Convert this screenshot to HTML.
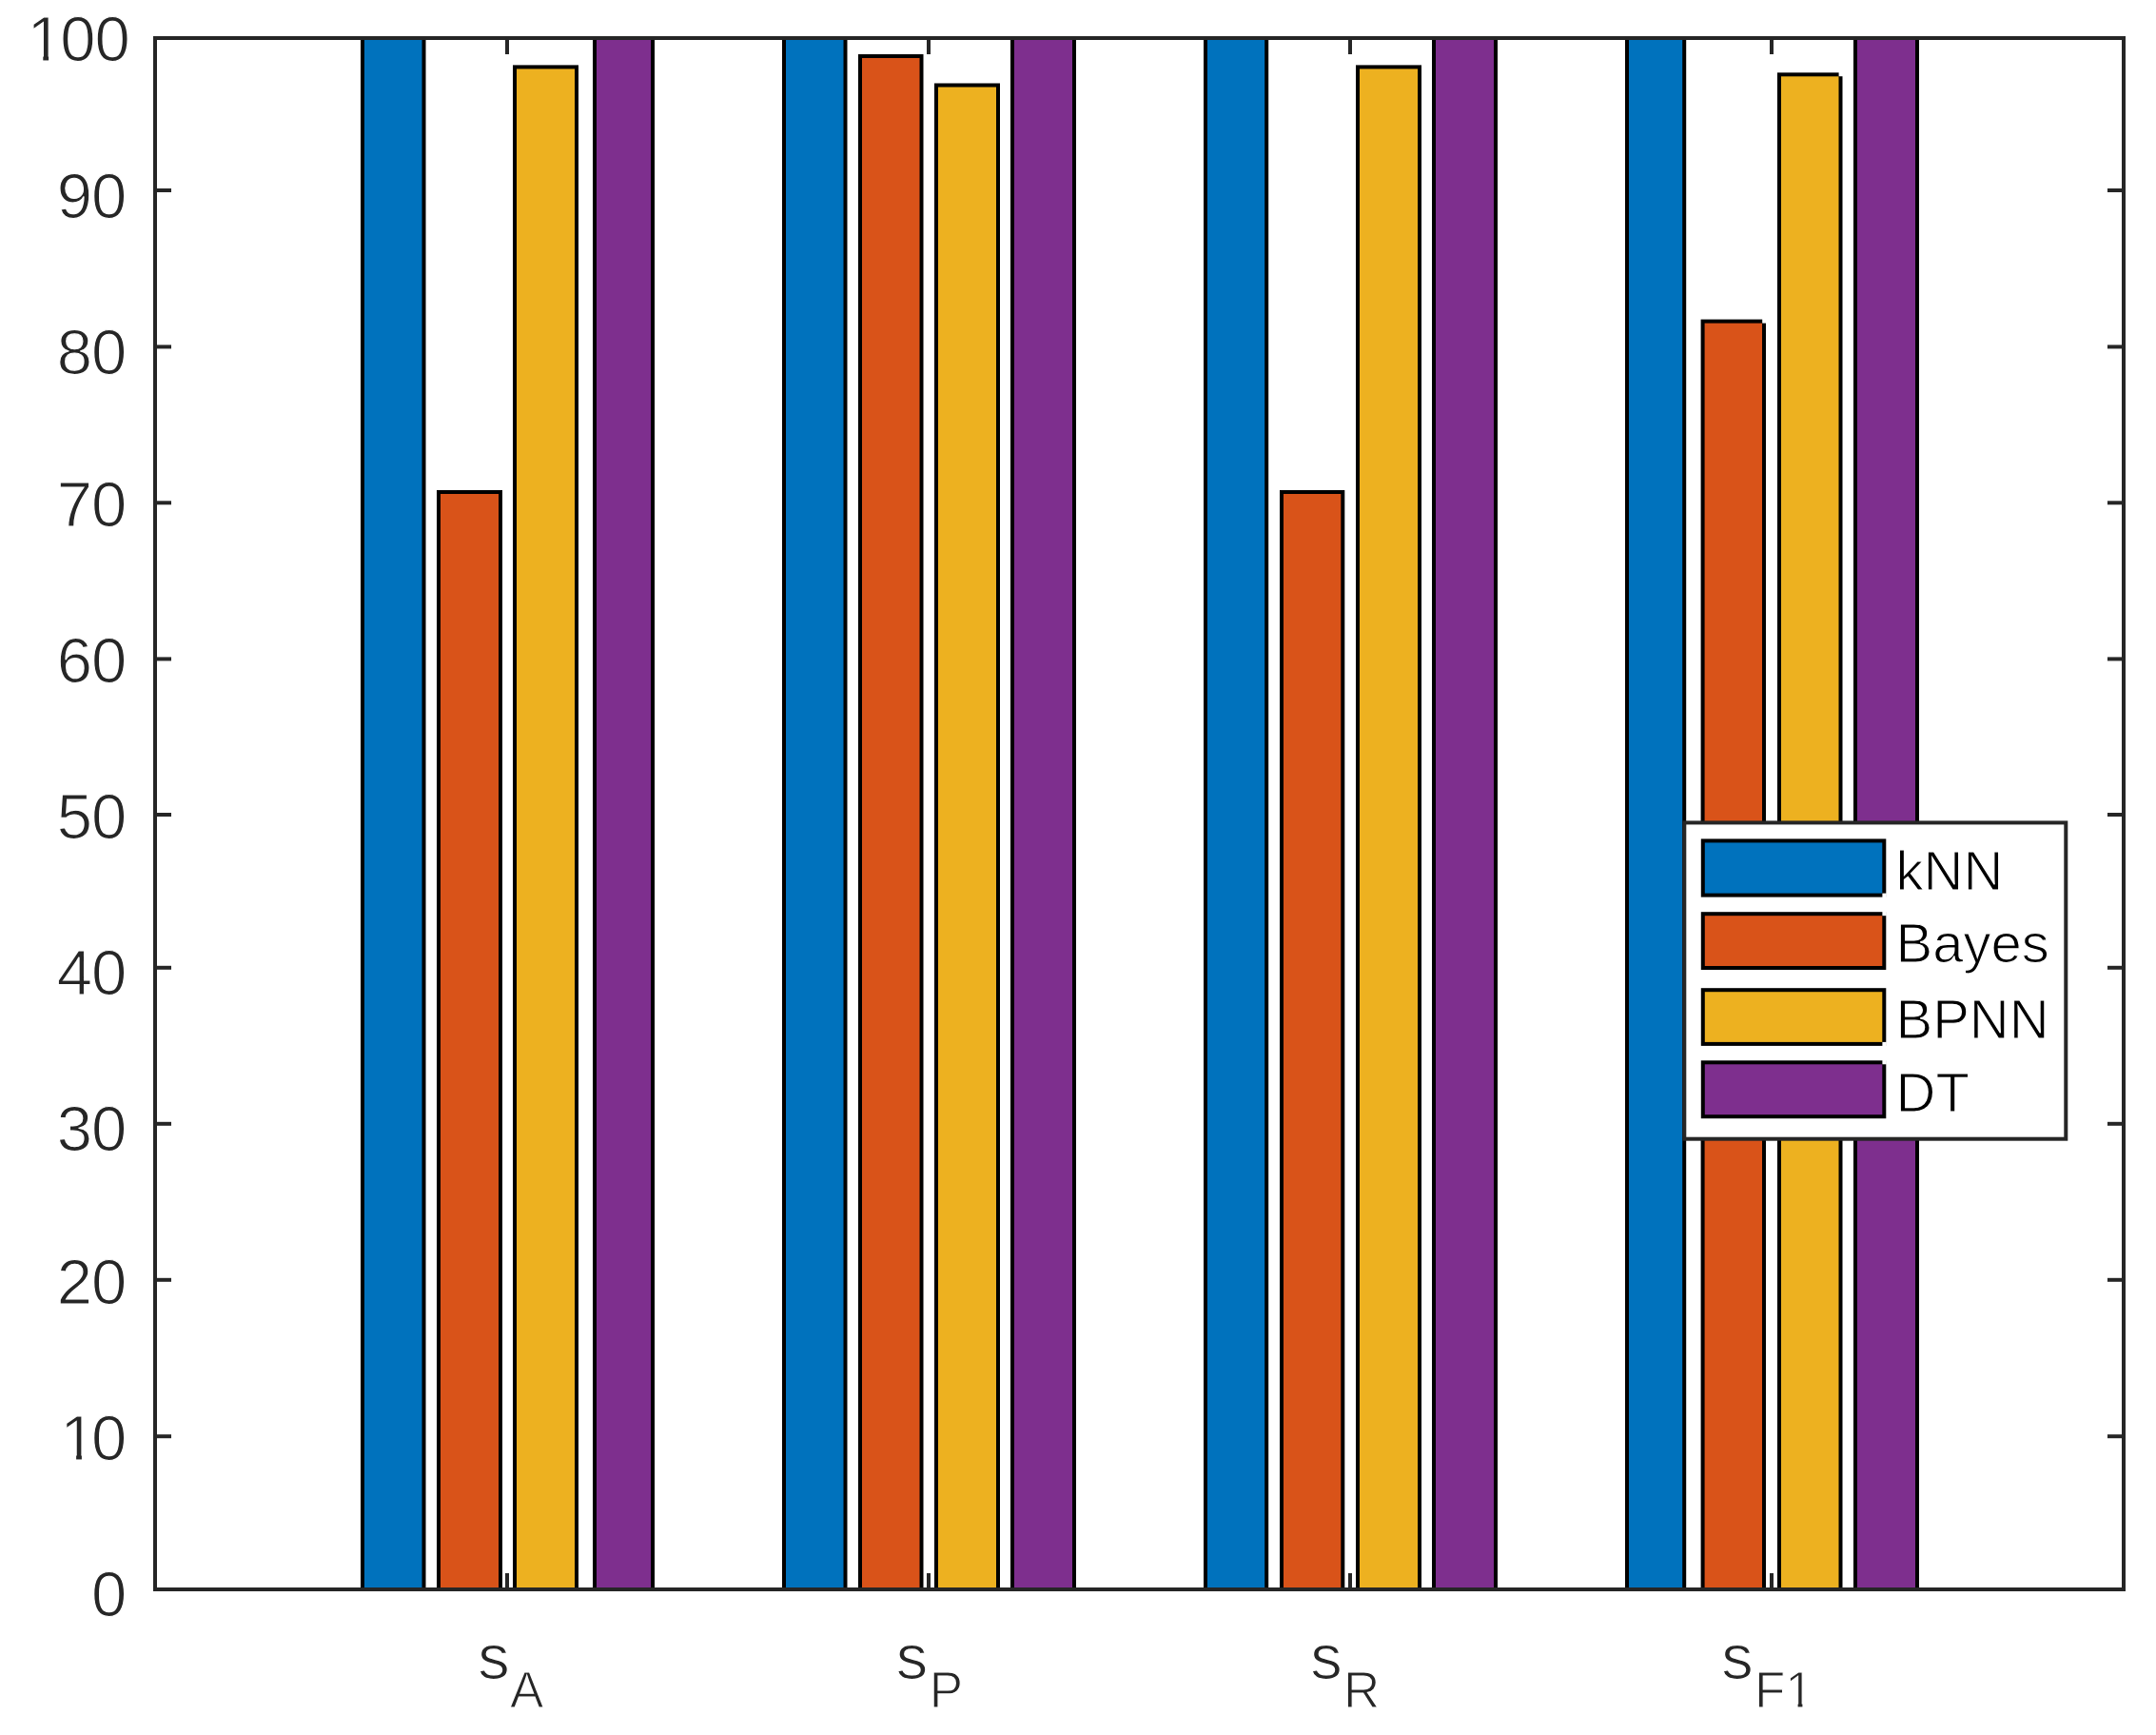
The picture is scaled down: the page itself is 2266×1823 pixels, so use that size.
<!DOCTYPE html>
<html lang="en"><head><meta charset="utf-8"><title>Classifier comparison</title>
<style>html,body{margin:0;padding:0;background:#fff}body{width:2266px;height:1823px;overflow:hidden}svg{display:block}text{font-family:"Liberation Sans",sans-serif}</style></head><body>
<svg width="2266" height="1823" viewBox="0 0 2266 1823">
<defs><filter id="soft" x="0" y="0" width="2266" height="1823" filterUnits="userSpaceOnUse" color-interpolation-filters="sRGB"><feGaussianBlur stdDeviation="0.5"/></filter></defs>
<rect x="0" y="0" width="2266" height="1823" fill="#fff"/>
<g filter="url(#soft)">
<g stroke="#000" stroke-width="4" stroke-linejoin="miter">
<rect x="381" y="40" width="64.5" height="1630" fill="#0072BD"/>
<rect x="461" y="517" width="65" height="1153" fill="#D95319"/>
<rect x="541" y="70.4" width="65" height="1599.6" fill="#EDB120"/>
<rect x="625" y="40" width="61" height="1630" fill="#7E2F8E"/>
<rect x="824" y="40" width="64.5" height="1630" fill="#0072BD"/>
<rect x="904" y="59" width="64.5" height="1611" fill="#D95319"/>
<rect x="984" y="89.5" width="65" height="1580.5" fill="#EDB120"/>
<rect x="1064" y="40" width="65" height="1630" fill="#7E2F8E"/>
<rect x="1267" y="40" width="64.2" height="1630" fill="#0072BD"/>
<rect x="1347" y="517" width="64.3" height="1153" fill="#D95319"/>
<rect x="1427" y="70.4" width="65" height="1599.6" fill="#EDB120"/>
<rect x="1507" y="40" width="65" height="1630" fill="#7E2F8E"/>
<rect x="1710" y="40" width="60.2" height="1630" fill="#0072BD"/>
<rect x="1789.6" y="337.6" width="64.4" height="1332.4" fill="#D95319"/>
<rect x="1870" y="78.3" width="64.5" height="1591.7" fill="#EDB120"/>
<rect x="1950" y="40" width="65" height="1630" fill="#7E2F8E"/>
</g>
<rect x="1852.2" y="335" width="4.4" height="4.6" fill="#fff"/>
<rect x="1932.6" y="75.8" width="4.4" height="4.4" fill="#fff"/>
<g stroke="#262626" stroke-width="4" fill="none">
<rect x="163" y="40" width="2069" height="1630"/>
<line x1="163" y1="200" x2="180" y2="200"/>
<line x1="2232" y1="200" x2="2215" y2="200"/>
<line x1="163" y1="364.4" x2="180" y2="364.4"/>
<line x1="2232" y1="364.4" x2="2215" y2="364.4"/>
<line x1="163" y1="528.3" x2="180" y2="528.3"/>
<line x1="2232" y1="528.3" x2="2215" y2="528.3"/>
<line x1="163" y1="692.4" x2="180" y2="692.4"/>
<line x1="2232" y1="692.4" x2="2215" y2="692.4"/>
<line x1="163" y1="856" x2="180" y2="856"/>
<line x1="2232" y1="856" x2="2215" y2="856"/>
<line x1="163" y1="1016.8" x2="180" y2="1016.8"/>
<line x1="2232" y1="1016.8" x2="2215" y2="1016.8"/>
<line x1="163" y1="1180.8" x2="180" y2="1180.8"/>
<line x1="2232" y1="1180.8" x2="2215" y2="1180.8"/>
<line x1="163" y1="1344.8" x2="180" y2="1344.8"/>
<line x1="2232" y1="1344.8" x2="2215" y2="1344.8"/>
<line x1="163" y1="1509.2" x2="180" y2="1509.2"/>
<line x1="2232" y1="1509.2" x2="2215" y2="1509.2"/>
<line x1="533" y1="1670" x2="533" y2="1653"/>
<line x1="533" y1="40" x2="533" y2="57"/>
<line x1="976" y1="1670" x2="976" y2="1653"/>
<line x1="976" y1="40" x2="976" y2="57"/>
<line x1="1419" y1="1670" x2="1419" y2="1653"/>
<line x1="1419" y1="40" x2="1419" y2="57"/>
<line x1="1862" y1="1670" x2="1862" y2="1653"/>
<line x1="1862" y1="40" x2="1862" y2="57"/>
</g>
<g font-size="67" fill="#262626" text-anchor="end" letter-spacing="-0.85" stroke="#fff" stroke-width="1.2">
<text text-anchor="start" letter-spacing="0" x="28.46 63.18 99.59" y="64">100</text>
<text x="132.5" y="228.5">90</text>
<text x="132.5" y="393">80</text>
<text x="132.5" y="553">70</text>
<text x="132.5" y="717">60</text>
<text x="132.5" y="881">50</text>
<text x="132.5" y="1044.5">40</text>
<text x="132.5" y="1209">30</text>
<text x="132.5" y="1369.5">20</text>
<text text-anchor="start" letter-spacing="0" x="63.18 96.09" y="1534">10</text>
<text x="132.5" y="1698">0</text>
</g>
<g fill="#262626" stroke="#fff" stroke-width="1.2">
<text x="502.3" y="1763.5" font-size="67">s<tspan font-size="53" dy="30" dx="0.2">A</tspan></text>
<text x="941.8" y="1763.5" font-size="67">s<tspan font-size="53" dy="30" dx="1.5">P</tspan></text>
<text x="1377.3" y="1763.5" font-size="67">s<tspan font-size="53" dy="30" dx="1.2">R</tspan></text>
<text x="1809.3" y="1763.5" font-size="67">s<tspan font-size="53" dy="30" dx="1.2">F1</tspan></text>
</g>
<rect x="32.2" y="58" width="13.1" height="7.5" fill="#fff"/>
<rect x="51.1" y="58" width="12.1" height="7.5" fill="#fff"/>
<rect x="67" y="1528" width="13.1" height="7.5" fill="#fff"/>
<rect x="85.9" y="1528" width="12.1" height="7.5" fill="#fff"/>
<rect x="1879.5" y="1789" width="10.1" height="6.5" fill="#fff"/>
<rect x="1894.4" y="1789" width="10.1" height="6.5" fill="#fff"/>
<rect x="1770.3" y="864.4" width="401" height="332.3" fill="#fff" stroke="#262626" stroke-width="4"/>
<g stroke="#000" stroke-width="4">
<rect x="1789.8" y="883.4" width="190.5" height="57.2" fill="#0072BD"/>
<rect x="1789.8" y="960.2" width="190.5" height="56.8" fill="#D95319"/>
<rect x="1789.8" y="1040.2" width="190.5" height="56.7" fill="#EDB120"/>
<rect x="1789.8" y="1116.3" width="190.5" height="56.9" fill="#7E2F8E"/>
</g>
<rect x="1978.4" y="938.6" width="4.4" height="4.4" fill="#fff"/>
<rect x="1978.4" y="957.8" width="4.4" height="4.4" fill="#fff"/>
<rect x="1978.4" y="1094.9" width="4.4" height="4.4" fill="#fff"/>
<rect x="1978.4" y="1113.9" width="4.4" height="4.4" fill="#fff"/>
<g font-size="58" fill="#000" stroke="#fff" stroke-width="1.2">
<text x="1992.5" y="934.8">kNN</text>
<text x="1992.5" y="1011">Bayes</text>
<text x="1992.5" y="1091.3">BPNN</text>
<text x="1992.5" y="1167.9">DT</text>
</g>
</g>
</svg></body></html>
